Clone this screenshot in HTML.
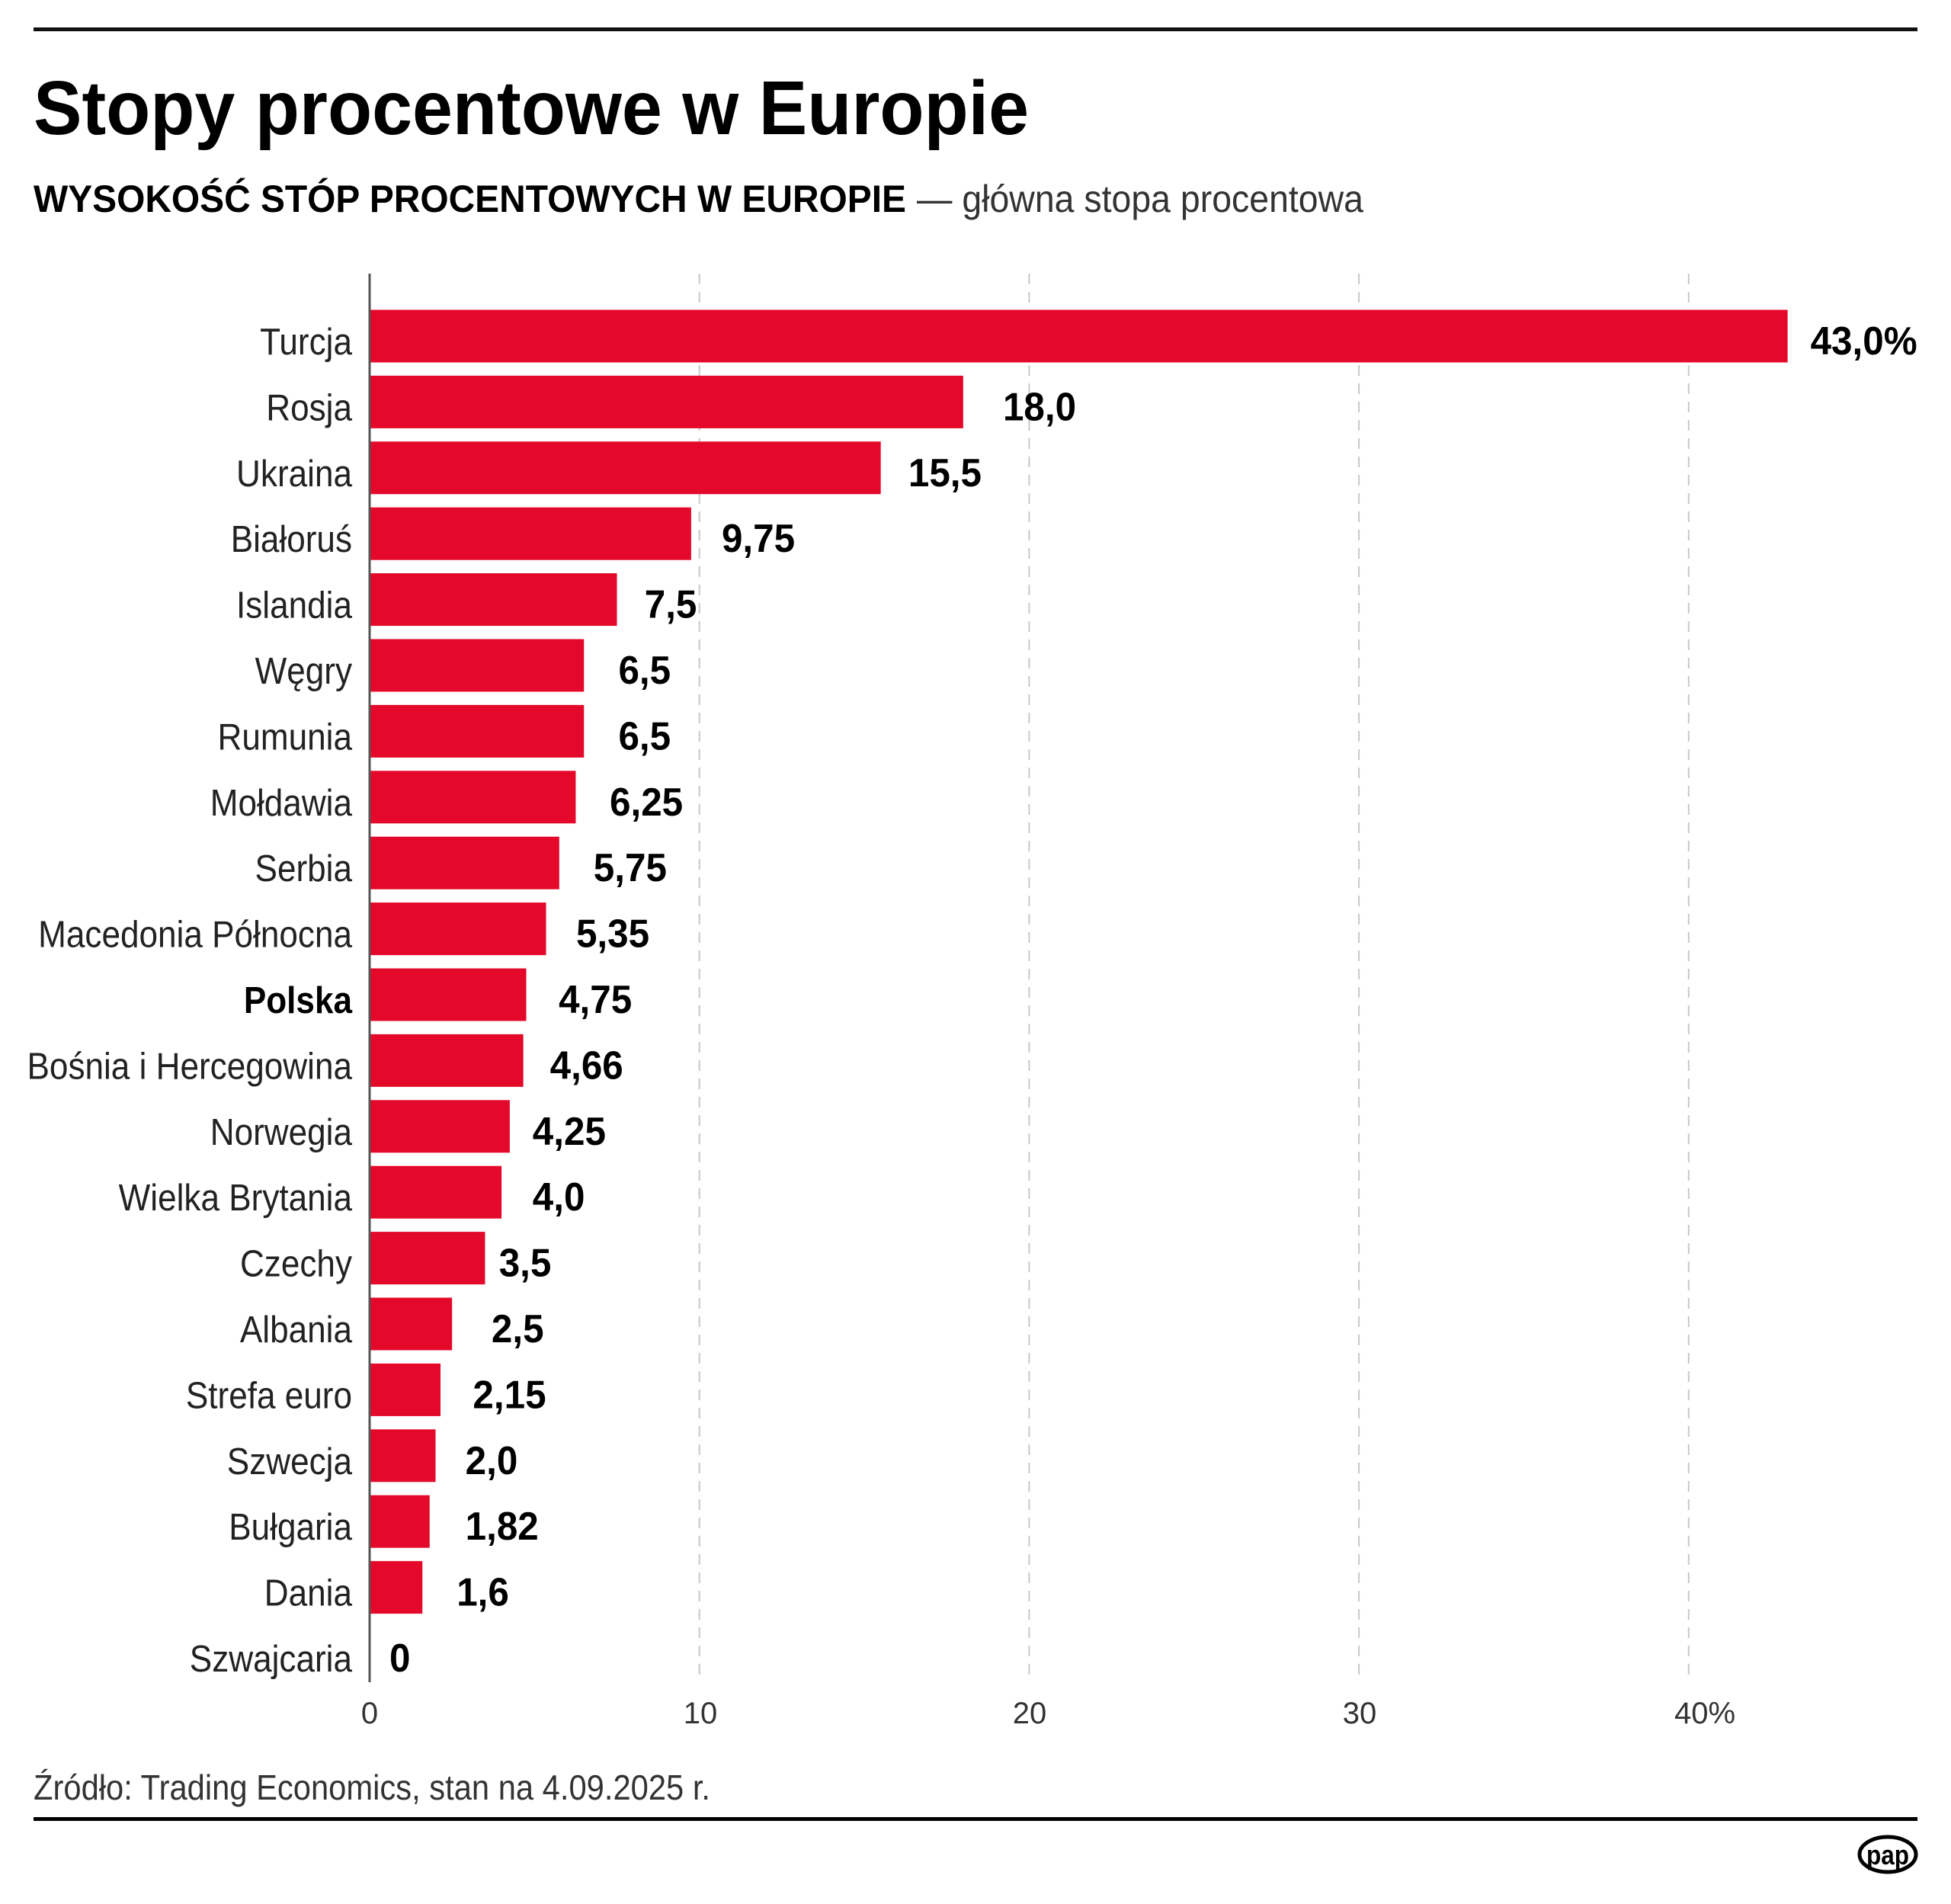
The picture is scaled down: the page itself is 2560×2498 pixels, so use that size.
<!DOCTYPE html>
<html><head><meta charset="utf-8"><style>
html,body{margin:0;padding:0;background:#fff;}
svg{display:block;font-family:"Liberation Sans",sans-serif;}
</style></head><body>
<svg width="2560" height="2498" viewBox="0 0 2560 2498" xmlns="http://www.w3.org/2000/svg">
<rect width="2560" height="2498" fill="#fff"/>
<rect x="44" y="36" width="2472" height="5" fill="#111"/>
<text x="44" y="176" font-size="100" font-weight="bold" textLength="1306" lengthAdjust="spacingAndGlyphs" fill="#000">Stopy procentowe w Europie</text>
<text x="44" y="278" font-size="50" font-weight="bold" textLength="1145" lengthAdjust="spacingAndGlyphs" fill="#000">WYSOKOŚĆ STÓP PROCENTOWYCH W EUROPIE</text>
<text x="1203" y="278" font-size="50" textLength="586" lengthAdjust="spacingAndGlyphs" fill="#333">— główna stopa procentowa</text>
<g stroke="#c8c8c8" stroke-width="2" stroke-dasharray="14,10">
<line x1="917.7" y1="359" x2="917.7" y2="2207"/>
<line x1="1350.4" y1="359" x2="1350.4" y2="2207"/>
<line x1="1783.1" y1="359" x2="1783.1" y2="2207"/>
<line x1="2215.8" y1="359" x2="2215.8" y2="2207"/>
</g>
<g fill="#e4082a" id="bars"></g>
<line x1="485" y1="359" x2="485" y2="2207" stroke="#555" stroke-width="3"/>
<g id="labels"></g>
<g font-size="40" fill="#333" text-anchor="middle">
<text x="485" y="2261">0</text>
<text x="919" y="2261">10</text>
<text x="1351" y="2261">20</text>
<text x="1784" y="2261">30</text>
<text x="2237" y="2261">40%</text>
</g>
<text x="44" y="2361" font-size="46" textLength="888" lengthAdjust="spacingAndGlyphs" fill="#333">Źródło: Trading Economics, stan na 4.09.2025 r.</text>
<rect x="44" y="2384" width="2472" height="5" fill="#000"/>
<ellipse cx="2477" cy="2433" rx="37" ry="23" fill="#fff" stroke="#000" stroke-width="5"/>
<text x="2477" y="2446" font-size="36" font-weight="bold" text-anchor="middle" textLength="56" lengthAdjust="spacingAndGlyphs">pap</text>
<script>
var d=[["Turcja",43,"43,0%",1455],["Rosja",18,"18,0",806],["Ukraina",15.5,"15,5",730],["Białoruś",9.75,"9,75",580],["Islandia",7.5,"7,5",518],["Węgry",6.5,"6,5",497],["Rumunia",6.5,"6,5",497],["Mołdawia",6.25,"6,25",490],["Serbia",5.75,"5,75",477],["Macedonia Północna",5.35,"5,35",463],["Polska",4.75,"4,75",449],["Bośnia i Hercegowina",4.66,"4,66",442],["Norwegia",4.25,"4,25",428],["Wielka Brytania",4.0,"4,0",428],["Czechy",3.5,"3,5",401],["Albania",2.5,"2,5",395],["Strefa euro",2.15,"2,15",380],["Szwecja",2.0,"2,0",374],["Bułgaria",1.82,"1,82",374],["Dania",1.6,"1,6",367],["Szwajcaria",0,"0",313]];
var ns="http://www.w3.org/2000/svg",b=document.getElementById("bars"),l=document.getElementById("labels");
d.forEach(function(r,i){
 var c=441+i*86.4;
 if(r[1]>0){var e=document.createElementNS(ns,"rect");e.setAttribute("x",485);e.setAttribute("y",c-34.5);e.setAttribute("width",r[1]*43.27);e.setAttribute("height",69);b.appendChild(e);}
 var g=document.createElementNS(ns,"g");g.setAttribute("transform","translate(462,"+(c+24)+") scale(0.9,1)");
 var t=document.createElementNS(ns,"text");t.setAttribute("text-anchor","end");t.setAttribute("font-size","49");t.setAttribute("fill",r[0]=="Polska"?"#000":"#222");if(r[0]=="Polska")t.setAttribute("font-weight","bold");t.textContent=r[0];g.appendChild(t);l.appendChild(g);
 var g2=document.createElementNS(ns,"g");g2.setAttribute("transform","translate("+(r[3]*1.6327)+","+(c+24)+") scale(0.95,1)");
 var v=document.createElementNS(ns,"text");v.setAttribute("font-size","52");v.setAttribute("font-weight","bold");v.textContent=r[2];g2.appendChild(v);l.appendChild(g2);
});
</script>
</svg>
</body></html>
